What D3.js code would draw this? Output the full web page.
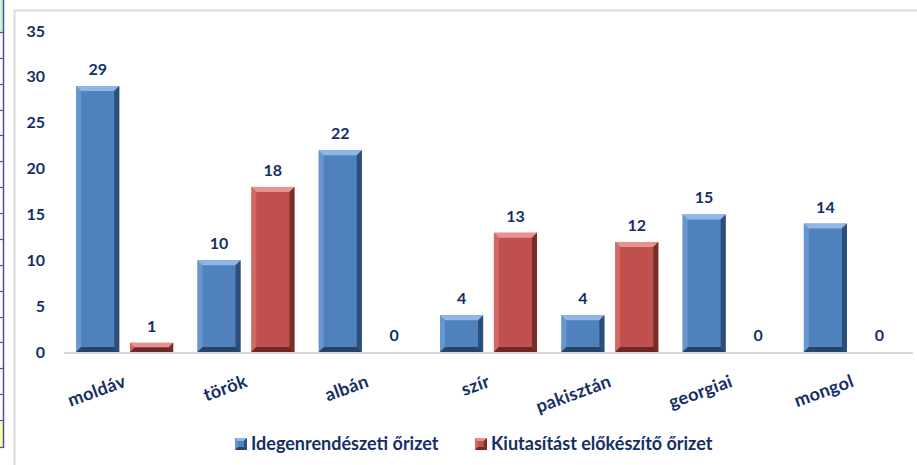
<!DOCTYPE html>
<html>
<head>
<meta charset="utf-8">
<script src="https://cdn.jsdelivr.net/npm/d3@7"></script>
<style>
  html, body { margin: 0; padding: 0; background: #fff; }
  svg { display: block; font-family: Lato, "Open Sans", sans-serif; }
</style>
</head>
<body>
<svg id="chart" width="917" height="465"></svg>
<script>
// Nationalities and detention counts
const categories = ["moldáv", "török", "albán", "szír", "pakisztán", "georgiai", "mongol"];
const seriesNames = ["Idegenrendészeti őrizet", "Kiutasítást előkészítő őrizet"];
const idegenrendeszeti = [29, 10, 22, 4, 4, 15, 14];
const kiutasitast = [1, 18, 0, 13, 12, 0, 0];
const yTicks = [0, 5, 10, 15, 20, 25, 30, 35];

const seriesColors = [
  { base: "#4f81bd", light: "#7aa6dc", lighter: "#8fb6e6", dark: "#2d4e78", darker: "#27456b" },
  { base: "#c0504d", light: "#dc7a77", lighter: "#e69290", dark: "#7a2e2c", darker: "#6a2826" }
];
const textColor = "#142f66";

const svg = d3.select("#chart");
const W = 917, H = 465;

// Spreadsheet strip on the left edge
const strip = svg.append("g");
strip.append("rect").attr("x", 0).attr("y", 0).attr("width", 4).attr("height", 32).attr("fill", "#ccf5cc");
strip.append("rect").attr("x", 0).attr("y", 422).attr("width", 4).attr("height", 26).attr("fill", "#ffff99");
strip.append("line").attr("x1", 3.5).attr("x2", 3.5).attr("y1", 0).attr("y2", 448)
  .attr("stroke", "#4b4ba8").attr("stroke-width", 1.5);
d3.range(16).forEach(i => {
  const y = Math.round(32 + i * 25.87) + 0.5;
  strip.append("line").attr("x1", 0).attr("x2", 4).attr("y1", y).attr("y2", y)
    .attr("stroke", "#4b4ba8").attr("stroke-width", 1.2);
});
strip.append("line").attr("x1", 0).attr("x2", 4).attr("y1", 447.5).attr("y2", 447.5)
  .attr("stroke", "#4b4ba8").attr("stroke-width", 1.2);

// Chart frame
svg.append("path").attr("d", `M14.5,${H} V10.5 H${W}`)
  .attr("fill", "none").attr("stroke", "#dadada").attr("stroke-width", 2);

// Scales
const plotLeft = 64, plotRight = 913, yZero = 352, yTop = 31;
const x = d3.scaleBand().domain(categories).range([plotLeft, plotRight]).padding(0);
const xs = d3.scaleBand().domain([0, 1]).range([0, x.bandwidth()]).paddingInner(0.2).paddingOuter(0.225);
const y = d3.scaleLinear().domain([0, 35]).range([yZero, yTop]);

// Y axis labels only
const yAxis = d3.axisLeft(y).tickValues(yTicks).tickSize(0).tickPadding(19);
const gy = svg.append("g").attr("transform", `translate(${plotLeft},0)`).call(yAxis);
gy.select(".domain").remove();
gy.selectAll("text")
  .attr("fill", textColor).attr("font-size", 16).attr("font-weight", 700)
  .attr("font-family", "Lato, sans-serif");

// Baseline
svg.append("line").attr("x1", plotLeft).attr("x2", plotRight).attr("y1", yZero + 1).attr("y2", yZero + 1)
  .attr("stroke", "#d4d4d4").attr("stroke-width", 2);

// Bevelled bar drawing
function bevelBar(g, x0, y0, w, h, c, bmax) {
  const b = Math.max(0, Math.min(bmax || 5, h / 2, w / 2));
  const x1 = x0 + w, y1 = y0 + h;
  g.append("rect").attr("x", x0).attr("y", y0).attr("width", w).attr("height", h).attr("fill", c.base);
  if (h <= 0) return;
  // top facet
  g.append("path").attr("d", `M${x0},${y0} L${x1},${y0} L${x1 - b},${y0 + b} L${x0 + b},${y0 + b} Z`)
    .attr("fill", c.lighter);
  // left facet
  g.append("path").attr("d", `M${x0},${y0} L${x0 + b},${y0 + b} L${x0 + b},${y1 - b} L${x0},${y1} Z`)
    .attr("fill", c.light).attr("opacity", 0.6);
  // right facet
  g.append("path").attr("d", `M${x1},${y0} L${x1},${y1} L${x1 - b},${y1 - b} L${x1 - b},${y0 + b} Z`)
    .attr("fill", c.dark);
  // bottom facet
  g.append("path").attr("d", `M${x0},${y1} L${x1},${y1} L${x1 - b},${y1 - b} L${x0 + b},${y1 - b} Z`)
    .attr("fill", c.darker);
}

const seriesValues = [idegenrendeszeti, kiutasitast];
const bars = svg.append("g");
categories.forEach((cat, i) => {
  seriesValues.forEach((vals, s) => {
    const v = vals[i];
    const bx = x(cat) + xs(s);
    const bw = xs.bandwidth();
    const by = y(v);
    const bh = yZero - by;
    const g = bars.append("g");
    if (v > 0) bevelBar(g, bx, by, bw, bh, seriesColors[s]);
    bars.append("text")
      .attr("x", bx + bw / 2).attr("y", by - 11)
      .attr("text-anchor", "middle")
      .attr("fill", textColor).attr("font-size", 16).attr("font-weight", 700)
      .text(v);
  });
});

// Category labels, rotated
const xl = svg.append("g");
categories.forEach(cat => {
  const cx = x(cat) + x.bandwidth() / 2;
  xl.append("text")
    .attr("transform", `translate(${cx - 3},${371}) rotate(-20)`)
    .attr("text-anchor", "end")
    .attr("dy", "0.9em")
    .attr("fill", textColor).attr("font-size", 18).attr("font-weight", 700)
    .attr("letter-spacing", 0.3)
    .text(cat);
});

// Legend
const legendItems = [
  { name: seriesNames[0], x: 235, c: seriesColors[0] },
  { name: seriesNames[1], x: 475, c: seriesColors[1] }
];
const lg = svg.append("g");
legendItems.forEach(it => {
  const g = lg.append("g");
  bevelBar(g, it.x, 438, 12, 12, it.c, 3);
  lg.append("text").attr("x", it.x + 16).attr("y", 444).attr("dy", "0.36em")
    .attr("fill", textColor).attr("font-size", 18).attr("font-weight", 700)
    .text(it.name);
});
</script>
</body>
</html>
